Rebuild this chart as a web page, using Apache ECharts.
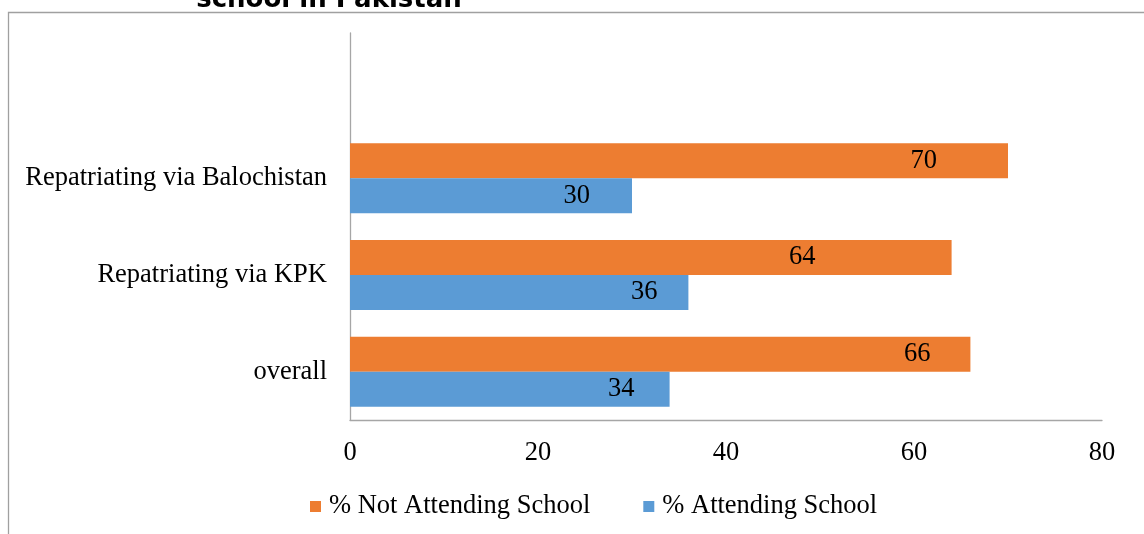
<!DOCTYPE html>
<html>
<head>
<meta charset="utf-8">
<script src="https://cdn.jsdelivr.net/npm/echarts@6/dist/echarts.min.js"></script>
<style>
html,body{margin:0;padding:0;background:#fff;}
#c{width:1144px;height:534px;}
</style>
</head>
<body>
<div id="c"></div>
<script>
var categories = ['overall', 'Repatriating via KPK', 'Repatriating via Balochistan', ''];
var notAttending = [66, 64, 70, null];
var attending = [34, 36, 30, null];
var seriesNames = ['% Not Attending School', '% Attending School'];
var xTicks = { min: 0, max: 80, interval: 20 };

// label distances from bar end (style only)
var notAttendingLabelDist = [40, 136, 71, 0];
var attendingLabelDist = [35, 31, 42, 0];

var serif = '"Liberation Serif", "Times New Roman", serif';
var fs = 26.5;

function withLabels(values, dists) {
  return values.map(function (v, i) {
    return { value: v, label: { distance: dists[i] } };
  });
}

var chart = echarts.init(document.getElementById('c'));
chart.setOption({
  animation: false,
  backgroundColor: '#fff',
  grid: { left: 350, right: 42, top: 33, bottom: 114, containLabel: false },
  legend: {
    left: 305, top: 488,
    icon: 'rect', itemWidth: 11, itemHeight: 11, itemGap: 53,
    textStyle: { fontFamily: serif, fontSize: fs, color: '#000', padding: [0, 0, 0, 3] },
    data: seriesNames
  },
  xAxis: {
    type: 'value', min: xTicks.min, max: xTicks.max, interval: xTicks.interval,
    axisLine: { show: true, lineStyle: { color: '#a6a6a6', width: 1.3 } },
    axisTick: { show: false },
    splitLine: { show: false },
    axisLabel: { fontFamily: serif, fontSize: fs, color: '#000', margin: 20 }
  },
  yAxis: {
    type: 'category', data: categories,
    axisLine: { show: true, lineStyle: { color: '#a6a6a6', width: 1.3 } },
    axisTick: { show: false },
    axisLabel: { fontFamily: serif, fontSize: fs, color: '#000', margin: 23, padding: [3, 0, 0, 0] }
  },
  series: [
    {
      name: seriesNames[0], type: 'bar', barWidth: 35, barGap: '0%',
      itemStyle: { color: '#ED7D31' },
      label: { show: true, position: 'insideRight', fontFamily: serif, fontSize: fs, color: '#000', padding: [3, 0, 0, 0] },
      data: withLabels(notAttending, notAttendingLabelDist)
    },
    {
      name: seriesNames[1], type: 'bar', barWidth: 35, barGap: '0%',
      itemStyle: { color: '#5B9BD5' },
      label: { show: true, position: 'insideRight', fontFamily: serif, fontSize: fs, color: '#000', padding: [3, 0, 0, 0] },
      data: withLabels(attending, attendingLabelDist)
    }
  ],
  graphic: [
    {
      type: 'rect', silent: true,
      shape: { x: 8.5, y: 12.5, width: 1200, height: 600 },
      style: { fill: 'none', stroke: '#a0a0a0', lineWidth: 1.3 }
    },
    {
      type: 'text', silent: true, x: 329, y: 13,
      style: {
        text: 'school in Pakistan', fill: '#000',
        font: 'bold 26px "DejaVu Sans", Verdana, sans-serif',
        textAlign: 'center', textVerticalAlign: 'bottom'
      }
    }
  ]
});
</script>
</body>
</html>
